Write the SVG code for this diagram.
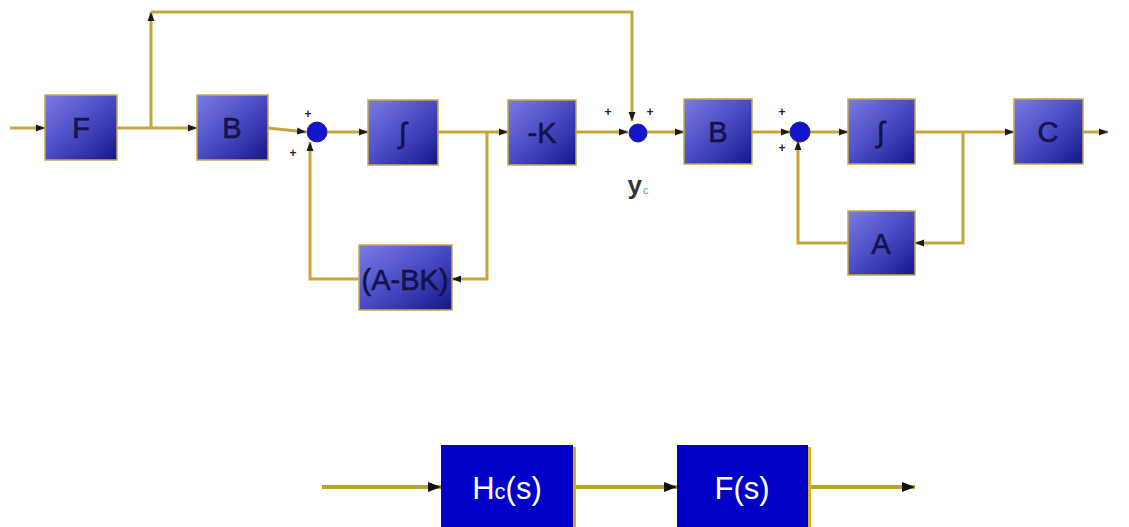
<svg xmlns="http://www.w3.org/2000/svg" width="1129" height="527" viewBox="0 0 1129 527">
<defs>
<linearGradient id="g" x1="0" y1="0" x2="1" y2="1">
<stop offset="0" stop-color="#7b7be6"/>
<stop offset="0.5" stop-color="#4a4ac4"/>
<stop offset="1" stop-color="#16168a"/>
</linearGradient>
<marker id="ah" markerUnits="userSpaceOnUse" markerWidth="10" markerHeight="10" viewBox="0 0 10 10" refX="9" refY="5" orient="auto">
<path d="M0,1.5 L9,5 L0,8.5 Z" fill="#1a1a1a"/>
</marker>
<marker id="ahb" markerUnits="userSpaceOnUse" markerWidth="14" markerHeight="14" viewBox="0 0 14 14" refX="13" refY="7" orient="auto">
<path d="M0,2 L13,7 L0,12 Z" fill="#111"/>
</marker>
</defs>
<style>
.blk{fill:url(#g);stroke:#c8a848;stroke-width:1.5}
.bt{font-family:"Liberation Sans",Arial,sans-serif;font-size:29px;fill:#141448;stroke:#141448;stroke-width:0.6;text-anchor:middle}
.ln{fill:none;stroke:#c6a63a;stroke-width:3}
.ln2{fill:none;stroke:#bfa02c;stroke-width:4}
.sum{fill:#1414cc;stroke:#23238a;stroke-width:1}
.pl{font-family:"Liberation Sans",Arial,sans-serif;font-size:12px;font-weight:bold;fill:#222;text-anchor:middle}
.bb{fill:#0000c8}
.bs{fill:#d8b020}
.wt{font-family:"Liberation Sans",Arial,sans-serif;font-size:31px;fill:#ffffff;text-anchor:middle}
</style>
<rect width="1129" height="527" fill="#ffffff"/>

<g id="connectors">
<path class="ln" d="M10,128 H45" marker-end="url(#ah)"/>
<path class="ln" d="M117,128 H197" marker-end="url(#ah)"/>
<path class="ln" d="M151,128 V12" marker-end="url(#ah)"/>
<path class="ln" d="M151,12 H632 V121" marker-end="url(#ah)"/>
<path class="ln" d="M268,128 L306,132" marker-end="url(#ah)"/>
<path class="ln" d="M326,132 H368" marker-end="url(#ah)"/>
<path class="ln" d="M438,132 H508" marker-end="url(#ah)"/>
<path class="ln" d="M487,132 V279 H452" marker-end="url(#ah)"/>
<path class="ln" d="M359,279 H310 V142" marker-end="url(#ah)"/>
<path class="ln" d="M576,132 H628" marker-end="url(#ah)"/>
<path class="ln" d="M647,132 H684" marker-end="url(#ah)"/>
<path class="ln" d="M752,132 H790" marker-end="url(#ah)"/>
<path class="ln" d="M810,132 H848" marker-end="url(#ah)"/>
<path class="ln" d="M915,132 H1014" marker-end="url(#ah)"/>
<path class="ln" d="M963,132 V243 H915" marker-end="url(#ah)"/>
<path class="ln" d="M848,243 H798 V141" marker-end="url(#ah)"/>
<path class="ln" d="M1083,132 H1108" marker-end="url(#ah)"/>
<path class="ln2" d="M322,487 H441" marker-end="url(#ahb)"/>
<path class="ln2" d="M576,487 H677" marker-end="url(#ahb)"/>
<path class="ln2" d="M811,487 H915" marker-end="url(#ahb)"/>
</g>

<g id="sum1"><circle class="sum" cx="317" cy="132" r="10"/><text class="pl" x="308" y="118">+</text><text class="pl" x="293" y="157">+</text></g>
<g id="sum2"><circle class="sum" cx="638" cy="133" r="9"/><text class="pl" x="608" y="116">+</text><text class="pl" x="650" y="116">+</text></g>
<g id="sum3"><circle class="sum" cx="800" cy="132" r="10"/><text class="pl" x="782" y="116">+</text><text class="pl" x="782" y="152">+</text></g>

<g id="F"><rect class="blk" x="45" y="95" width="72" height="65"/><text class="bt" x="81" y="138">F</text></g>
<g id="B1"><rect class="blk" x="197" y="95" width="71" height="65"/><text class="bt" x="232" y="138">B</text></g>
<g id="int1"><rect class="blk" x="368" y="100" width="70" height="65"/><text class="bt" x="403" y="143">∫</text></g>
<g id="minusK"><rect class="blk" x="508" y="100" width="68" height="65"/><text class="bt" x="542" y="143">-K</text></g>
<g id="ABK"><rect class="blk" x="359" y="245" width="93" height="65"/><text class="bt" x="405" y="290">(A-BK)</text></g>
<g id="B2"><rect class="blk" x="684" y="99" width="68" height="65"/><text class="bt" x="718" y="142">B</text></g>
<g id="int2"><rect class="blk" x="848" y="99" width="67" height="65"/><text class="bt" x="881" y="142">∫</text></g>
<g id="C"><rect class="blk" x="1014" y="99" width="69" height="65"/><text class="bt" x="1048" y="142">C</text></g>
<g id="A"><rect class="blk" x="848" y="211" width="67" height="64"/><text class="bt" x="881" y="254">A</text></g>

<g id="yc"><text x="638" y="194" font-family="Liberation Sans,Arial,sans-serif" font-size="26" font-weight="bold" fill="#333" text-anchor="middle">y<tspan font-size="11" font-weight="normal" fill="#888" dx="1">c</tspan></text></g>

<g id="Hc"><rect class="bs" x="441" y="447" width="135" height="80"/><rect class="bb" x="441" y="445" width="132" height="82"/><text class="wt" x="507" y="499">H<tspan font-size="22">c</tspan>(s)</text></g>
<g id="Fs"><rect class="bs" x="677" y="447" width="134" height="80"/><rect class="bb" x="677" y="445" width="131" height="82"/><text class="wt" x="742" y="499">F(s)</text></g>
</svg>
